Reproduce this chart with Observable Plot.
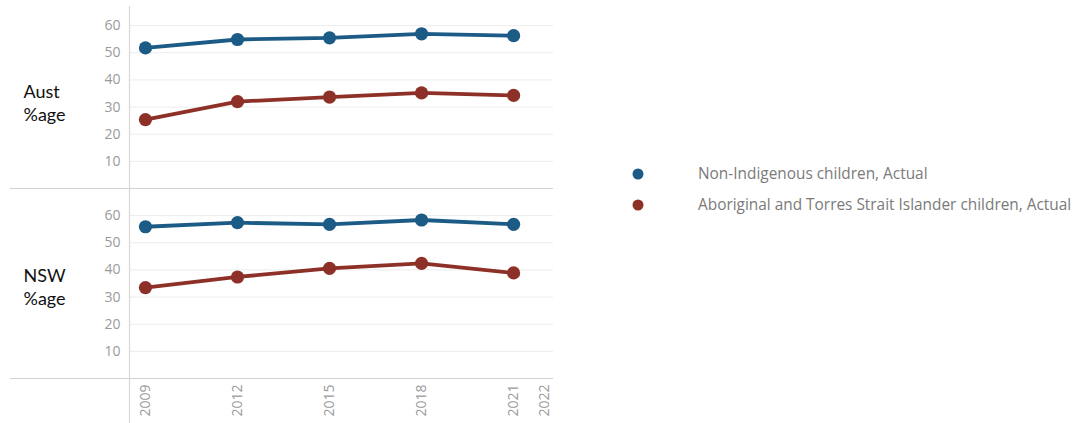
<!DOCTYPE html>
<html>
<head>
<meta charset="utf-8">
<script src="https://cdn.jsdelivr.net/npm/d3@7"></script>
<script src="https://cdn.jsdelivr.net/npm/@observablehq/plot@0.6"></script>
<style>
  html, body { margin: 0; padding: 0; background: #fff; }
  #wrap { position: relative; width: 1073px; height: 423px; overflow: hidden; }
  #chart { position: absolute; left: 0; top: -3px; }
  #legend { position: absolute; left: 628px; top: 160px; font-family: "Open Sans", sans-serif; font-size: 15.4px; color: #7a7a7a; }
  .row { position: relative; height: 31px; }
  .row svg { position: absolute; left: 0; top: 8px; }
  .row span { position: absolute; left: 70px; top: 3px; white-space: nowrap; }
</style>
</head>
<body>
<div id="wrap">
  <div id="chart"></div>
  <div id="legend"></div>
</div>
<script>
const years = [2009, 2012, 2015, 2018, 2021];
const regions = ["Aust", "NSW"];
const rowLabels = ["Aust\n%age", "NSW\n%age"];
const series = ["Non-Indigenous children, Actual", "Aboriginal and Torres Strait Islander children, Actual"];
const colors = ["#1c5b86", "#8d3128"];
const austNonIndigenous = [51.8, 54.9, 55.5, 57.0, 56.3];
const austAboriginal = [25.4, 32.0, 33.7, 35.2, 34.3];
const nswNonIndigenous = [55.9, 57.4, 56.8, 58.4, 56.8];
const nswAboriginal = [33.5, 37.4, 40.6, 42.4, 38.9];
const xTicks = [2009, 2012, 2015, 2018, 2021, 2022];
const yTicks = [10, 20, 30, 40, 50, 60];
const xDomain = [2008.48, 2022.3];
const yDomain = [0, 70];

const table = [];
const add = (region, s, vals) => years.forEach((yr, i) => table.push({region, series: s, year: yr, value: vals[i]}));
add("Aust", series[0], austNonIndigenous);
add("Aust", series[1], austAboriginal);
add("NSW", series[0], nswNonIndigenous);
add("NSW", series[1], nswAboriginal);

const tickStyle = {fontSize: 14, fontFamily: "Open Sans", fill: "#9a9a9a"};
const rowLabelStyle = {frameAnchor: "left", dx: -106, textAnchor: "start", fontSize: 18, fontFamily: "Lato", fill: "#111", lineHeight: 1.3};

const chart = Plot.plot({
  width: 560,
  height: 426,
  marginLeft: 129,
  marginRight: 7,
  marginTop: 0,
  marginBottom: 45,
  style: {fontFamily: "Open Sans", background: "transparent", overflow: "visible"},
  x: {domain: xDomain},
  y: {domain: yDomain},
  fy: {domain: regions, padding: 0, axis: null},
  color: {domain: series, range: colors},
  marks: [
    Plot.gridY(yTicks, {stroke: "#ececec", strokeOpacity: 1, strokeWidth: 1}),
    Plot.ruleY([yDomain[0]], {stroke: "#d2d2d2", strokeWidth: 1.2, insetLeft: -119}),
    Plot.ruleX([xDomain[0]], {fy: () => regions[0], stroke: "#d8d8d8", strokeWidth: 1.2, insetTop: 8}),
    Plot.ruleX([xDomain[0]], {fy: () => regions[1], stroke: "#d8d8d8", strokeWidth: 1.2, insetBottom: -48}),
    Plot.axisY(yTicks, {tickSize: 0, tickPadding: 9, ...tickStyle, label: null}),
    Plot.axisX(xTicks, {tickSize: 0, tickPadding: 6, tickRotate: -90, tickFormat: d => String(d), ...tickStyle, label: null}),
    Plot.line(table, {x: "year", y: "value", stroke: "series", fy: "region", z: "series", strokeWidth: 3.8}),
    Plot.dot(table, {x: "year", y: "value", fill: "series", fy: "region", r: 6.6}),
    Plot.text([{region: regions[0], label: rowLabels[0]}], {fy: "region", text: "label", dy: 8.5, ...rowLabelStyle}),
    Plot.text([{region: regions[1], label: rowLabels[1]}], {fy: "region", text: "label", dy: 2.5, ...rowLabelStyle})
  ]
});
document.getElementById("chart").appendChild(chart);

const legend = document.getElementById("legend");
series.forEach((s, i) => {
  const row = document.createElement("div");
  row.className = "row";
  row.innerHTML = `<svg width="20" height="14"><circle cx="10" cy="6" r="5.5" fill="${colors[i]}"></circle></svg><span>${s}</span>`;
  legend.appendChild(row);
});
</script>
</body>
</html>
